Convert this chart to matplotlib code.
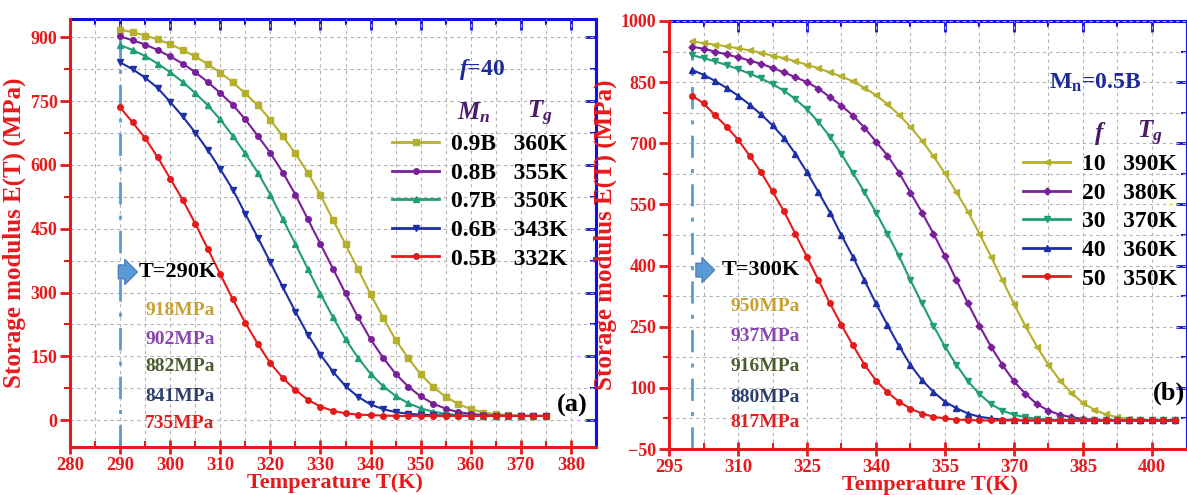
import numpy as np
import matplotlib.pyplot as plt
from matplotlib.lines import Line2D

plt.rcParams['font.family'] = 'Liberation Serif'
plt.rcParams['font.weight'] = 'bold'
plt.rcParams['axes.labelweight'] = 'bold'
plt.rcParams['mathtext.fontset'] = 'custom'
plt.rcParams['mathtext.it'] = 'Liberation Serif:italic:bold'
plt.rcParams['mathtext.rm'] = 'Liberation Serif:bold'
plt.rcParams['mathtext.bf'] = 'Liberation Serif:bold'

# ---- panel (a): f=40, different Mn ----
T_a = np.arange(290, 375.1, 2.5)
E_09B = [918, 912, 904, 895, 884, 870, 855, 837, 817, 794, 768, 740, 706, 667, 627, 581, 529, 471,
         413, 355, 296, 241, 189, 146, 108, 78, 55, 38, 26, 18, 14, 12, 11, 10, 10]
E_08B = [902, 893, 883, 870, 855, 838, 818, 795, 769, 741, 707, 668, 628, 582, 530, 472, 414, 356,
         298, 242, 190, 147, 109, 79, 56, 39, 27, 19, 15, 12, 11, 10, 10, 10, 10]
E_07B = [882, 870, 856, 838, 818, 795, 769, 740, 707, 668, 627, 582, 530, 472, 414, 355, 297, 242,
         190, 147, 109, 80, 57, 40, 28, 20, 15, 12, 11, 10, 10, 10, 10, 10, 10]
E_06B = [841, 825, 805, 781, 748, 714, 676, 635, 590, 542, 485, 429, 371, 312, 255, 201, 154, 114,
         80, 55, 37, 26, 19, 15, 13, 12, 11, 10, 10, 10, 10, 10, 10, 10, 10]
E_05B = [735, 700, 663, 618, 568, 518, 462, 403, 343, 284, 229, 179, 134, 99, 71, 48, 32, 22,
         16, 13, 12, 11, 10, 10, 10, 10, 10, 10, 10, 10, 10, 10, 10, 10, 10]
mn_labels = ['0.9B', '0.8B', '0.7B', '0.6B', '0.5B']
tg_a = ['360K', '355K', '350K', '343K', '332K']
start_a = ['918MPa', '902MPa', '882MPa', '841MPa', '735MPa']

# ---- panel (b): Mn=0.5B, different f ----
T_b = np.arange(300, 405.1, 2.5)
E_f10 = [950, 946, 942, 938, 933, 928, 922, 915, 909, 901, 893, 884, 874, 864, 852, 836, 818, 796,
         770, 740, 706, 668, 626, 580, 532, 478, 422, 364, 306, 251, 201, 156, 118, 87, 63, 46,
         35, 28, 24, 22, 21, 20, 20]
E_f20 = [937, 932, 925, 918, 911, 903, 895, 885, 874, 862, 850, 834, 813, 792, 768, 738, 704, 670,
         628, 579, 530, 478, 423, 364, 307, 252, 201, 156, 116, 85, 60, 44, 34, 28, 24, 22,
         21, 20, 20, 20, 20, 20, 20]
E_f30 = [916, 909, 901, 892, 882, 871, 859, 845, 829, 808, 783, 752, 716, 673, 627, 580, 530, 478,
         423, 364, 307, 252, 201, 156, 116, 85, 60, 44, 34, 28, 24, 22, 21, 20, 20, 20,
         20, 20, 20, 20, 20, 20, 20]
E_f40 = [880, 868, 853, 836, 817, 795, 771, 744, 713, 674, 629, 580, 530, 474, 421, 364, 307, 254,
         203, 156, 119, 90, 66, 50, 37, 29, 25, 22, 21, 20, 20, 20, 20, 20, 20, 20,
         20, 20, 20, 20, 20, 20, 20]
E_f50 = [817, 798, 769, 741, 709, 670, 629, 582, 533, 477, 421, 364, 307, 254, 204, 157, 118, 89,
         66, 49, 37, 29, 25, 22, 21, 20, 20, 20, 20, 20, 20, 20, 20, 20, 20, 20,
         20, 20, 20, 20, 20, 20, 20]
f_labels = ['10', '20', '30', '40', '50']
tg_b = ['390K', '380K', '370K', '360K', '350K']
start_b = ['950MPa', '937MPa', '916MPa', '880MPa', '817MPa']

RED = '#e8191c'
BLUE = '#1010e0'
colors = ['#b5b02c', '#7a1f9a', '#1f9e78', '#1c2fa8', '#e51b1b']
txt_colors = ['#c9a030', '#8a45b0', '#4b5e2f', '#2d3f6e', '#e02020']
marks_a = ['s', 'o', '^', 'v', 'o']
marks_b = ['<', 'D', 'v', '^', 'o']
ARROW = 'simple,head_length=0.5,head_width=1.0,tail_width=0.55'


def frame(ax, xt, xm, yt, ym, ylab_x):
    ax.set_xticks(xt)
    ax.set_xticks(xm, minor=True)
    ax.set_yticks(yt)
    ax.set_yticks(ym, minor=True)
    ax.grid(True, which='both', color='#b4b4b4', ls=(0, (3, 3)), lw=0.8)
    ax.set_axisbelow(True)
    for s in ['left', 'bottom']:
        ax.spines[s].set_color(RED)
        ax.spines[s].set_linewidth(2.2)
    ax.spines['right'].set_color(BLUE)
    ax.spines['right'].set_linewidth(2.2)
    ax.spines['top'].set_visible(False)
    ax.tick_params(axis='x', which='major', direction='inout', length=10, width=2, color=RED,
                   labelcolor=RED, labelsize=13.5, pad=2)
    ax.tick_params(axis='x', which='minor', direction='in', length=4, width=1.5, color=RED)
    ax.tick_params(axis='y', which='major', direction='out', length=7, width=2, color=RED,
                   labelcolor=RED, labelsize=13, pad=2)
    ax.tick_params(axis='y', which='minor', direction='out', length=4, width=1.5, color=RED)
    for t in ax.get_xticklabels() + ax.get_yticklabels():
        t.set_fontweight('bold')
    top = ax.secondary_xaxis('top')
    top.set_xticks(xt)
    top.set_xticks(xm, minor=True)
    top.tick_params(which='major', direction='in', length=8, width=2, color=BLUE, labeltop=False)
    top.tick_params(which='minor', direction='in', length=4, width=1.5, color=BLUE)
    top.spines['top'].set_color(BLUE)
    top.spines['top'].set_linewidth(2.2)
    right = ax.secondary_yaxis('right')
    right.set_yticks(yt)
    right.set_yticks(ym, minor=True)
    right.tick_params(which='major', direction='in', length=8, width=2, color=BLUE, labelright=False)
    right.tick_params(which='minor', direction='in', length=4, width=1.5, color=BLUE)
    right.spines['right'].set_color(BLUE)
    right.spines['right'].set_linewidth(2.2)
    ax.set_xlabel('Temperature T(K)', color=RED, fontsize=16, fontweight='bold')
    ax.set_ylabel('Storage modulus E(T) (MPa)', color=RED, fontsize=18, fontweight='bold')
    ax.xaxis.set_label_coords(0.504, -0.061)
    ax.yaxis.set_label_coords(ylab_x, 0.5)


def arrow(ax, x0, x1, y):
    ax.annotate('', xy=(x1, y), xytext=(x0, y), xycoords='axes fraction',
                arrowprops=dict(arrowstyle=ARROW, fc='#5b9bd5', ec='#4a80c0',
                                mutation_scale=18, shrinkA=0, shrinkB=0))


fig = plt.figure(figsize=(11.87, 4.95), dpi=100)
ax1 = fig.add_axes([70 / 1187, 1 - 447 / 495, 526 / 1187, 428 / 495])
ax2 = fig.add_axes([669 / 1187, 1 - 449 / 495, 517.5 / 1187, 428 / 495])
leg_kw = dict(loc='upper left', frameon=False, fontsize=17, handlelength=2.0, handletextpad=0.5,
              labelspacing=0.3, borderaxespad=0, borderpad=0)

# panel (a)
series_a = [E_09B, E_08B, E_07B, E_06B, E_05B]
ax1.set_xlim(280, 385)
ax1.set_ylim(-63, 943)
frame(ax1, np.arange(280, 381, 10), np.arange(285, 385, 10),
      np.arange(0, 901, 150), np.arange(75, 943, 150), -0.083)
ax1.vlines(T_a[0], -63, E_09B[0], color='#5b9bd5', lw=2, ls=(0, (8, 4, 1.5, 4)), zorder=1)
handles = []
for E, c, m, lab, tg in zip(series_a, colors, marks_a, mn_labels, tg_a):
    ax1.plot(T_a, E, color=c, marker=m, ms=4, lw=1.5, zorder=3)
    handles.append(Line2D([], [], color=c, marker=m, ms=4, lw=2, label=f'{lab}   {tg}'))
ax1.legend(handles=handles, bbox_to_anchor=(0.612, 0.732), **leg_kw)
ax1.text(0.783, 0.881, r'$\mathit{f}$=40', transform=ax1.transAxes, ha='center', va='center',
         fontsize=17, color='#1f2a9a')
ax1.text(0.768, 0.780, r'$\mathit{M_n}$', transform=ax1.transAxes, ha='center', va='center',
         fontsize=18, color='#4a1a6a')
ax1.text(0.894, 0.780, r'$\mathit{T_g}$', transform=ax1.transAxes, ha='center', va='center',
         fontsize=18, color='#4a1a6a')
arrow(ax1, 0.092, 0.128, 0.409)
ax1.text(0.130, 0.409, 'T=290K', transform=ax1.transAxes, ha='left', va='center', fontsize=16,
         color='black')
for s, c, fy in zip(start_a, txt_colors, [0.320, 0.252, 0.187, 0.117, 0.056]):
    ax1.text(0.143, fy, s, transform=ax1.transAxes, ha='left', va='center', fontsize=14, color=c)
ax1.text(0.954, 0.098, '(a)', transform=ax1.transAxes, ha='center', va='center', fontsize=19,
         color='black')

# panel (b)
series_b = [E_f10, E_f20, E_f30, E_f40, E_f50]
ax2.set_xlim(295, 407.5)
ax2.set_ylim(-50, 1000)
frame(ax2, np.arange(295, 401, 15), np.arange(302.5, 407.5, 15),
      np.arange(-50, 1001, 150), np.arange(25, 1000, 150), -0.101)
ax2.vlines(T_b[0], -50, E_f10[0], color='#5b9bd5', lw=2, ls=(0, (8, 4, 1.5, 4)), zorder=1)
handles = []
for E, c, m, lab, tg in zip(series_b, colors, marks_b, f_labels, tg_b):
    ms = 3.5 if m == 'D' else 4
    ax2.plot(T_b, E, color=c, marker=m, ms=ms, lw=1.5, zorder=3)
    handles.append(Line2D([], [], color=c, marker=m, ms=ms, lw=2, label=f'{lab}   {tg}'))
ax2.legend(handles=handles, bbox_to_anchor=(0.684, 0.690), **leg_kw)
ax2.text(0.823, 0.855, r'M$_\mathbf{n}$=0.5B', transform=ax2.transAxes, ha='center', va='center',
         fontsize=17, color='#1f2a9a')
ax2.text(0.833, 0.738, r'$\mathit{f}$', transform=ax2.transAxes, ha='center', va='center',
         fontsize=18, color='#4a1a6a')
ax2.text(0.929, 0.738, r'$\mathit{T_g}$', transform=ax2.transAxes, ha='center', va='center',
         fontsize=18, color='#4a1a6a')
arrow(ax2, 0.052, 0.088, 0.418)
ax2.text(0.102, 0.418, 'T=300K', transform=ax2.transAxes, ha='left', va='center', fontsize=16,
         color='black')
for s, c, fy in zip(start_b, txt_colors, [0.332, 0.262, 0.192, 0.121, 0.063]):
    ax2.text(0.118, fy, s, transform=ax2.transAxes, ha='left', va='center', fontsize=14, color=c)
ax2.text(0.998, 0.131, '(b)', transform=ax2.transAxes, ha='right', va='center', fontsize=19,
         color='black')

fig.savefig('out.png', dpi=100)
